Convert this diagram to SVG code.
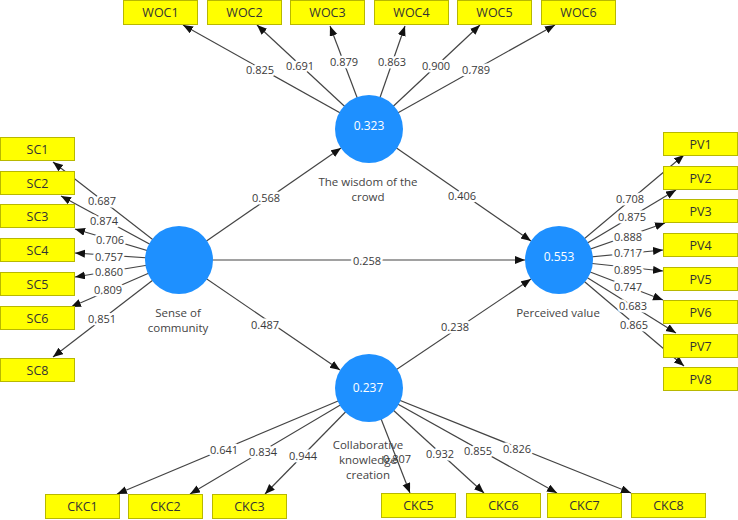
<svg xmlns="http://www.w3.org/2000/svg" width="738" height="520" viewBox="0 0 738 520">
<defs>
<marker id="ah" markerUnits="userSpaceOnUse" markerWidth="11" markerHeight="9" refX="10" refY="4" orient="auto">
<path d="M0,0 L10,4 L0,8 z" fill="#111"/>
</marker>
<style>
.e{stroke:#444;stroke-width:1.2;fill:none;marker-end:url(#ah)}
.l{font-family:"Open Sans","Noto Sans","Liberation Sans",sans-serif;font-size:11px;fill:#3a3a3a;text-anchor:middle;dominant-baseline:central;stroke:#fff;stroke-width:5;paint-order:stroke;stroke-linejoin:round}
.b{fill:#ffff00;stroke:#b8b800;stroke-width:1}
.bt{font-family:"Open Sans","Noto Sans","Liberation Sans",sans-serif;font-size:12.5px;fill:#333;text-anchor:middle;dominant-baseline:central}
.c{fill:#1e90ff}
.ct{font-family:"Open Sans","Noto Sans","Liberation Sans",sans-serif;font-size:12px;fill:#fff;text-anchor:middle;dominant-baseline:central}
.n{font-family:"Open Sans","Noto Sans","Liberation Sans",sans-serif;font-size:11.5px;fill:#444;text-anchor:middle;dominant-baseline:central}
</style>
</defs>
<rect width="738" height="520" fill="#fff"/>
<g id="connectors">
<line class="e" x1="179" y1="260" x2="341" y2="148"/>
<line class="e" x1="369" y1="129" x2="531" y2="241"/>
<line class="e" x1="179" y1="260" x2="525" y2="260"/>
<line class="e" x1="179" y1="260" x2="340" y2="370"/>
<line class="e" x1="369" y1="388" x2="531" y2="279"/>
<line class="e" x1="369" y1="129" x2="183" y2="25"/>
<line class="e" x1="369" y1="129" x2="257" y2="25"/>
<line class="e" x1="369" y1="129" x2="330" y2="26"/>
<line class="e" x1="369" y1="129" x2="405" y2="26"/>
<line class="e" x1="369" y1="129" x2="480" y2="25"/>
<line class="e" x1="369" y1="129" x2="555" y2="25"/>
<line class="e" x1="179" y1="260" x2="53" y2="162"/>
<line class="e" x1="179" y1="260" x2="61" y2="196"/>
<line class="e" x1="179" y1="260" x2="75" y2="229"/>
<line class="e" x1="179" y1="260" x2="75" y2="253"/>
<line class="e" x1="179" y1="260" x2="75" y2="277"/>
<line class="e" x1="179" y1="260" x2="71" y2="307"/>
<line class="e" x1="179" y1="260" x2="53" y2="357"/>
<line class="e" x1="559" y1="260" x2="684" y2="155"/>
<line class="e" x1="559" y1="260" x2="676" y2="190"/>
<line class="e" x1="559" y1="260" x2="665" y2="223"/>
<line class="e" x1="559" y1="260" x2="663" y2="250"/>
<line class="e" x1="559" y1="260" x2="663" y2="271"/>
<line class="e" x1="559" y1="260" x2="663" y2="300"/>
<line class="e" x1="559" y1="260" x2="676" y2="333"/>
<line class="e" x1="559" y1="260" x2="684" y2="366"/>
<line class="e" x1="369" y1="388" x2="117" y2="494"/>
<line class="e" x1="369" y1="388" x2="190" y2="494"/>
<line class="e" x1="369" y1="388" x2="265" y2="494"/>
<line class="e" x1="369" y1="388" x2="410" y2="493"/>
<line class="e" x1="369" y1="388" x2="484" y2="493"/>
<line class="e" x1="369" y1="388" x2="557" y2="493"/>
<line class="e" x1="369" y1="388" x2="631" y2="493"/>
<text class="l" x="266" y="197">0.568</text>
<text class="l" x="462" y="195">0.406</text>
<text class="l" x="367" y="260">0.258</text>
<text class="l" x="265" y="324">0.487</text>
<text class="l" x="455" y="326">0.238</text>
<text class="l" x="260" y="69">0.825</text>
<text class="l" x="300" y="65">0.691</text>
<text class="l" x="344" y="61">0.879</text>
<text class="l" x="392" y="61">0.863</text>
<text class="l" x="436" y="65">0.900</text>
<text class="l" x="476" y="69">0.789</text>
<text class="l" x="102" y="200">0.687</text>
<text class="l" x="104" y="220">0.874</text>
<text class="l" x="110" y="239">0.706</text>
<text class="l" x="109" y="256">0.757</text>
<text class="l" x="109" y="271">0.860</text>
<text class="l" x="108" y="289">0.809</text>
<text class="l" x="102" y="318">0.851</text>
<text class="l" x="630" y="198">0.708</text>
<text class="l" x="632" y="216">0.875</text>
<text class="l" x="628" y="236">0.888</text>
<text class="l" x="628" y="252">0.717</text>
<text class="l" x="628" y="269">0.895</text>
<text class="l" x="628" y="286">0.747</text>
<text class="l" x="633" y="305">0.683</text>
<text class="l" x="634" y="324">0.865</text>
<text class="l" x="224" y="449">0.641</text>
<text class="l" x="263" y="451">0.834</text>
<text class="l" x="303" y="455">0.944</text>
<text class="l" x="440" y="453">0.932</text>
<text class="l" x="478" y="450">0.855</text>
<text class="l" x="517" y="448">0.826</text>
</g>
<g id="SC"><circle class="c" cx="179" cy="260" r="34"/><text class="n" x="178" y="312">Sense of</text><text class="n" x="178" y="327">community</text></g>
<g id="WOC"><circle class="c" cx="369" cy="129" r="34"/><text class="ct" x="369" y="125">0.323</text><text class="n" x="368" y="181">The wisdom of the</text><text class="n" x="368" y="196">crowd</text></g>
<g id="PV"><circle class="c" cx="559" cy="260" r="34"/><text class="ct" x="559" y="256">0.553</text><text class="n" x="558" y="312">Perceived value</text></g>
<g id="CKC"><circle class="c" cx="369" cy="388" r="34"/><text class="ct" x="368" y="387">0.237</text><text class="n" x="368" y="444">Collaborative</text><text class="n" x="368" y="459">knowledge</text><text class="n" x="368" y="474">creation</text></g>
<g id="CKC5-label"><text class="n" x="397" y="458" style="fill:#3a3a3a;font-size:11px">0.807</text></g>
<g id="WOC1"><rect class="b" x="123.5" y="0.5" width="74" height="24"/><text class="bt" x="160.5" y="12.5">WOC1</text></g>
<g id="WOC2"><rect class="b" x="207.5" y="0.5" width="74" height="24"/><text class="bt" x="244.5" y="12.5">WOC2</text></g>
<g id="WOC3"><rect class="b" x="290.5" y="0.5" width="74" height="24"/><text class="bt" x="327.5" y="12.5">WOC3</text></g>
<g id="WOC4"><rect class="b" x="374.5" y="0.5" width="74" height="24"/><text class="bt" x="411.5" y="12.5">WOC4</text></g>
<g id="WOC5"><rect class="b" x="457.5" y="0.5" width="74" height="24"/><text class="bt" x="494.5" y="12.5">WOC5</text></g>
<g id="WOC6"><rect class="b" x="541.5" y="0.5" width="74" height="24"/><text class="bt" x="578.5" y="12.5">WOC6</text></g>
<g id="SC1"><rect class="b" x="0.5" y="137.5" width="74" height="23"/><text class="bt" x="37.5" y="149">SC1</text></g>
<g id="SC2"><rect class="b" x="0.5" y="171.5" width="74" height="23"/><text class="bt" x="37.5" y="183">SC2</text></g>
<g id="SC3"><rect class="b" x="0.5" y="204.5" width="74" height="23"/><text class="bt" x="37.5" y="216">SC3</text></g>
<g id="SC4"><rect class="b" x="0.5" y="238.5" width="74" height="23"/><text class="bt" x="37.5" y="250">SC4</text></g>
<g id="SC5"><rect class="b" x="0.5" y="272.5" width="74" height="23"/><text class="bt" x="37.5" y="284">SC5</text></g>
<g id="SC6"><rect class="b" x="0.5" y="306.5" width="74" height="23"/><text class="bt" x="37.5" y="318">SC6</text></g>
<g id="SC8"><rect class="b" x="0.5" y="358.5" width="74" height="23"/><text class="bt" x="37.5" y="370">SC8</text></g>
<g id="PV1"><rect class="b" x="663.5" y="132.5" width="74" height="23"/><text class="bt" x="700.5" y="144">PV1</text></g>
<g id="PV2"><rect class="b" x="663.5" y="166.5" width="74" height="23"/><text class="bt" x="700.5" y="178">PV2</text></g>
<g id="PV3"><rect class="b" x="663.5" y="199.5" width="74" height="23"/><text class="bt" x="700.5" y="211">PV3</text></g>
<g id="PV4"><rect class="b" x="663.5" y="233.5" width="74" height="23"/><text class="bt" x="700.5" y="245">PV4</text></g>
<g id="PV5"><rect class="b" x="663.5" y="267.5" width="74" height="23"/><text class="bt" x="700.5" y="279">PV5</text></g>
<g id="PV6"><rect class="b" x="663.5" y="300.5" width="74" height="23"/><text class="bt" x="700.5" y="312">PV6</text></g>
<g id="PV7"><rect class="b" x="663.5" y="334.5" width="74" height="23"/><text class="bt" x="700.5" y="346">PV7</text></g>
<g id="PV8"><rect class="b" x="663.5" y="367.5" width="74" height="23"/><text class="bt" x="700.5" y="379">PV8</text></g>
<g id="CKC1"><rect class="b" x="45.5" y="494.5" width="74" height="24"/><text class="bt" x="82.5" y="506.5">CKC1</text></g>
<g id="CKC2"><rect class="b" x="128.5" y="494.5" width="74" height="24"/><text class="bt" x="165.5" y="506.5">CKC2</text></g>
<g id="CKC3"><rect class="b" x="212.5" y="494.5" width="74" height="24"/><text class="bt" x="249.5" y="506.5">CKC3</text></g>
<g id="CKC5"><rect class="b" x="381.5" y="493.5" width="74" height="24"/><text class="bt" x="418.5" y="505.5">CKC5</text></g>
<g id="CKC6"><rect class="b" x="466.5" y="493.5" width="74" height="24"/><text class="bt" x="503.5" y="505.5">CKC6</text></g>
<g id="CKC7"><rect class="b" x="547.5" y="493.5" width="74" height="24"/><text class="bt" x="584.5" y="505.5">CKC7</text></g>
<g id="CKC8"><rect class="b" x="631.5" y="493.5" width="74" height="24"/><text class="bt" x="668.5" y="505.5">CKC8</text></g>
</svg>
